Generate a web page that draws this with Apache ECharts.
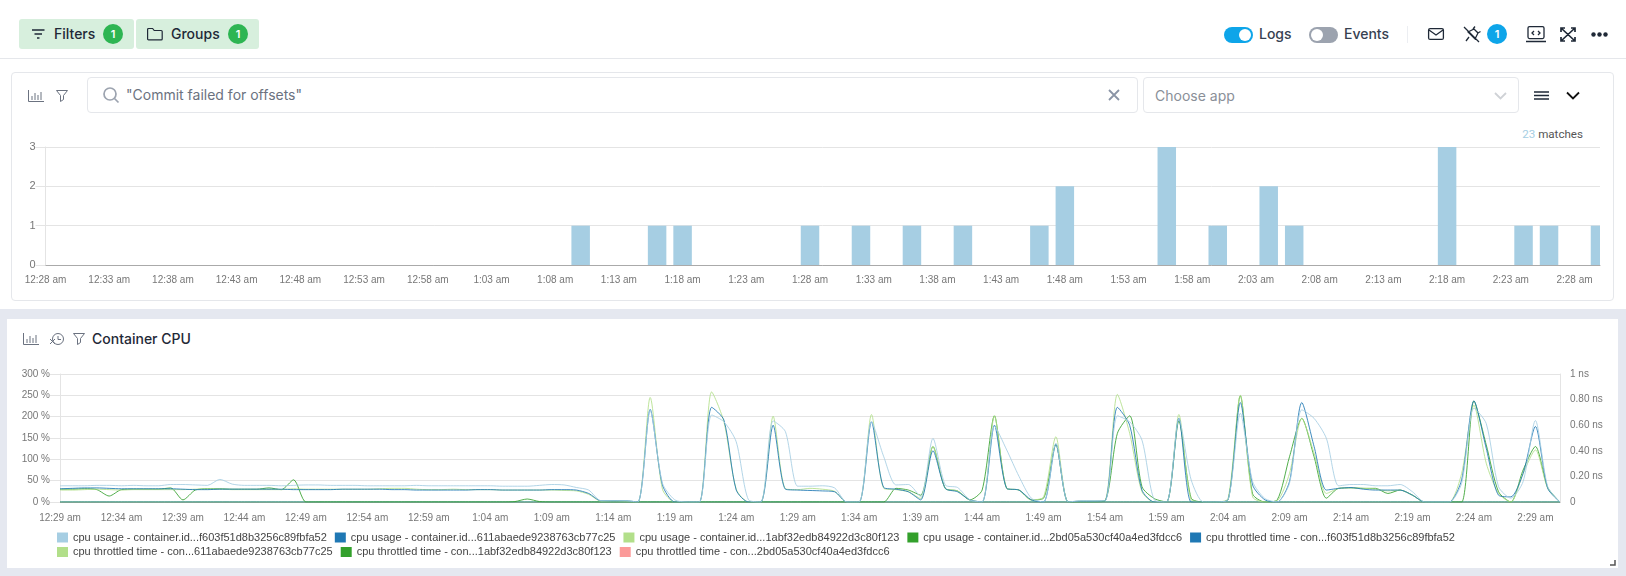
<!DOCTYPE html>
<html><head><meta charset="utf-8">
<script src="https://cdn.jsdelivr.net/npm/echarts@6/dist/echarts.min.js"></script>
<style>
html,body{margin:0;padding:0;background:#fff;width:1626px;height:576px;overflow:hidden;font-family:Inter,sans-serif;color:#1f2937}
.a{position:absolute}
.btn{background:#d7efdd;border-radius:3px;top:19px;height:30px}
.t{font-size:14px;font-weight:500;line-height:20px;white-space:nowrap}
.badge{border-radius:50%;color:#fff;font-size:11px;font-weight:600;text-align:center;width:20px;height:20px;line-height:20px}
.box{border:1px solid #e5e7eb;border-radius:4px;box-sizing:border-box;background:#fff}
.tog{border-radius:8px;width:29px;height:16px;top:27px}
.tog i{position:absolute;width:12px;height:12px;border-radius:50%;background:#fff;top:2px}
svg{position:absolute;overflow:visible;fill:none}
#chart{position:absolute;left:0;top:0;width:1626px;height:576px}
</style></head><body>
<div class="a" style="left:0;top:58px;width:1626px;height:1px;background:#e5e7eb"></div>
<div class="a btn" style="left:19px;width:115px"></div>
<div class="a btn" style="left:136px;width:123px"></div>
<svg style="left:32px;top:28px" width="13" height="12" stroke="#1f2937" stroke-width="1.6"><path d="M0 2h12.5M2.5 6h7.5M5 10h2.5"/></svg>
<svg style="left:147px;top:27px" width="16" height="14" stroke="#1f2937" stroke-width="1.2"><path d="M.6 2.5a1 1 0 0 1 1-1h4l1.6 2h7a1 1 0 0 1 1 1v7.4a1 1 0 0 1-1 1h-12.600a1 1 0 0 1-1-1z"/></svg>
<div class="a t" style="left:54px;top:24px">Filters</div>
<div class="a t" style="left:171px;top:24px">Groups</div>
<div class="a badge" style="left:103px;top:24px;background:#2db552">1</div>
<div class="a badge" style="left:228px;top:24px;background:#2db552">1</div>
<div class="a tog" style="left:1224px;background:#0ea5e9"><i style="left:15px"></i></div>
<div class="a t" style="left:1259px;top:24px;color:#374151">Logs</div>
<div class="a tog" style="left:1309px;background:#9ca3af"><i style="left:2px"></i></div>
<div class="a t" style="left:1344px;top:24px;color:#374151">Events</div>
<div class="a" style="left:1407px;top:26px;width:1px;height:17px;background:#eceef2"></div>
<svg style="left:1428px;top:28px" width="16" height="12" stroke="#1f2937" stroke-width="1.300"><rect x=".6" y=".6" width="14.800" height="10.800" rx="1.500"/><path d="M1 2l7 5 7-5"/></svg>
<svg style="left:1463px;top:26px" width="18" height="17" stroke="#1f2937" stroke-width="1.300"><path d="M1 1l15 15M5 6l6-3 4 4-3 6zM10 3l2-2.500M15 7l2.500-1.500M6 11l-3 4"/></svg>
<div class="a badge" style="left:1487px;top:24px;background:#0ea5e9">1</div>
<svg style="left:1526px;top:26px" width="20" height="17" stroke="#1f2937" stroke-width="1.300"><rect x="2" y=".6" width="16" height="12" rx="1.500"/><path d="M0 15.500h20M8 5l-2 2 2 2M12 5l2 2-2 2"/></svg>
<svg style="left:1560px;top:27px" width="16" height="15" stroke="#1f2937" stroke-width="1.700"><path d="M1 1l14 13M15 1l-14 13M1 5v-4h4M11 1h4v4M1 10v4h4M15 10v4h-4"/></svg>
<svg style="left:1591px;top:32px" width="17" height="5" fill="#1f2937"><circle cx="2.500" cy="2.500" r="2.200" fill="#1f2937"/><circle cx="8.500" cy="2.500" r="2.200" fill="#1f2937"/><circle cx="14.500" cy="2.500" r="2.200" fill="#1f2937"/></svg>

<div class="a box" style="left:11px;top:72px;width:1603px;height:229px"></div>
<svg style="left:28px;top:90px" width="16" height="12" stroke="#6b7280" stroke-width="1"><path d="M.5 0v11.500h15.500M4 10v-4M7 10v-7M10 10v-5M13 10v-8"/></svg>
<svg style="left:56px;top:90px" width="12" height="12" stroke="#6b7280" stroke-width="1"><path d="M.5.500h11l-4 5v4l-3 2v-6z"/></svg>
<div class="a box" style="left:87px;top:77px;width:1051px;height:36px"></div>
<svg style="left:103px;top:87px" width="16" height="16" stroke="#9ca3af" stroke-width="1.700"><circle cx="7" cy="7" r="6"/><path d="M11.500 11.500l4 4"/></svg>
<div class="a" style="left:126px;top:85px;font-size:14px;line-height:20px;color:#6b7280;white-space:nowrap">"Commit failed for offsets"</div>
<svg style="left:1109px;top:90px" width="10" height="10" stroke="#8a94a6" stroke-width="1.800"><path d="M0 0l10 10M10 0l-10 10"/></svg>
<div class="a box" style="left:1143px;top:77px;width:376px;height:36px"></div>
<div class="a" style="left:1155px;top:86px;font-size:14px;line-height:20px;color:#8a8f98;white-space:nowrap">Choose app</div>
<svg style="left:1495px;top:93px" width="11" height="7" stroke="#cfd2d6" stroke-width="1.800"><path d="M0 0l5.500 5.500 5.500-5.500"/></svg>
<svg style="left:1534px;top:91px" width="15" height="9" stroke="#1f2937" stroke-width="1.400"><path d="M0 1h15M0 4.500h15M0 8h15"/></svg>
<svg style="left:1567px;top:92px" width="12" height="8" stroke="#111" stroke-width="1.800"><path d="M0 .5l6 6 6-6"/></svg>
<div class="a" style="right:43px;top:127px;font:11.600px Roboto,sans-serif;line-height:14px;color:#555;white-space:nowrap"><span style="color:#a6cee3">23</span> matches</div>

<div class="a" style="left:0;top:309px;width:1626px;height:267px;background:#e5e8f0"></div>
<div class="a" style="left:7px;top:319px;width:1611px;height:249px;background:#fff"></div>
<svg style="left:23px;top:333px" width="16" height="12" stroke="#6b7280" stroke-width="1"><path d="M.5 0v11.500h15.500M4 10v-4M7 10v-7M10 10v-5M13 10v-8"/></svg>
<svg style="left:50px;top:333px" width="14" height="12" stroke="#6b7280" stroke-width="1"><circle cx="8" cy="6" r="5.500"/><path d="M8 3v3.500h3M0 11l5-5M0 6l5 5"/></svg>
<svg style="left:73px;top:333px" width="12" height="12" stroke="#6b7280" stroke-width="1"><path d="M.5.500h11l-4 5v4l-3 2v-6z"/></svg>
<div class="a t" style="left:92px;top:329px;color:#1f2937">Container CPU</div>
<svg style="left:1610px;top:560px" width="6" height="6" stroke="#555" stroke-width="1.500"><path d="M5 0v5h-5"/></svg>
<div id="chart"></div>
<script>
const logCategories = [];
const cpuCategories = [];
function clockLabel(totalMinutes){
  const h = Math.floor(totalMinutes/60), m = totalMinutes%60;
  return (h===0?12:h)+':'+String(m).padStart(2,'0')+' am';
}
for(let i=0;i<=122;i++){ logCategories.push(clockLabel(28+i)); cpuCategories.push(clockLabel(29+i)); }

const barTimes  = ['1:10 am','1:16 am','1:18 am','1:28 am','1:32 am','1:36 am','1:40 am','1:46 am','1:48 am','1:56 am','2:00 am','2:04 am','2:06 am','2:18 am','2:24 am','2:26 am','2:30 am'];
const barCounts = [1,1,1,1,1,1,1,1,2,3,1,2,1,3,1,1,1];

const usageF603 = [
 38,38,38,39,39,38,39,38,38,41,
 41,40,39,53,42,39,39,39,38,39,
 40,40,39,39,39,38,38,38,38,39,
 38,38,38,38,38,38,37,37,37,39,
 41,40,34,28,3,3,3,0,215,44,
 5,0,0,204,188,141,5,0,190,165,
 37,37,38,33,0,0,188,106,40,41,
 12,149,40,34,5,0,178,122,60,9,
 0,138,0,3,3,3,202,188,145,5,
 0,195,52,0,0,5,208,48,8,0,
 44,216,196,149,38,41,41,38,38,41,
 24,0,0,0,44,220,184,36,9,48,
 191,36,0];
const usage611 = [
 31,32,33,33,32,31,31,31,31,31,
 30,29,29,30,30,30,30,30,30,29,
 29,29,29,30,30,30,30,29,29,28,
 28,28,28,28,29,29,28,28,28,28,
 29,29,28,20,3,3,3,0,217,40,
 0,0,0,222,192,28,0,0,180,30,
 28,27,26,24,0,0,188,34,30,24,
 5,120,32,24,5,0,180,32,28,5,
 0,135,0,2,2,3,222,180,28,0,
 0,196,0,0,0,5,233,40,5,0,
 48,233,130,28,32,34,30,28,28,28,
 16,0,0,0,52,237,126,16,12,67,
 177,32,0];
const usage1abf = [
 28,28,29,30,29,28,29,29,29,29,
 29,30,30,30,29,29,29,29,29,31,
 30,30,30,30,30,30,31,32,32,30,
 29,29,30,29,29,29,28,28,28,28,
 28,27,26,18,2,3,2,0,245,30,
 0,0,0,258,188,30,0,0,201,31,
 29,32,30,25,0,0,205,32,29,24,
 8,130,32,26,5,0,202,32,28,5,
 12,153,0,2,2,4,252,161,24,0,
 0,205,5,0,0,8,250,12,0,3,
 67,196,114,20,32,34,32,30,26,28,
 16,0,0,0,67,227,91,20,0,67,
 122,32,0];
const usage2bd = [
 30,30,31,29,14,29,30,30,30,33,
 5,28,31,31,30,30,30,33,29,52,
 0,0,0,0,0,0,0,0,0,0,
 0,0,0,0,0,0,0,1,7,1,
 0,0,0,0,0,0,0,0,0,0,
 0,0,0,0,0,0,0,0,0,0,
 0,0,0,0,0,0,0,0,32,28,
 16,130,32,26,5,28,202,32,28,5,
 9,135,0,0,0,3,161,202,36,8,
 0,190,9,0,0,5,249,19,0,5,
 106,196,106,9,32,33,32,32,20,28,
 16,0,0,0,0,237,134,24,0,75,
 130,34,0];
const throttledZero = [
 0,0,0,0,0,0,0,0,0,0, 0,0,0,0,0,0,0,0,0,0,
 0,0,0,0,0,0,0,0,0,0, 0,0,0,0,0,0,0,0,0,0,
 0,0,0,0,0,0,0,0,0,0, 0,0,0,0,0,0,0,0,0,0,
 0,0,0,0,0,0,0,0,0,0, 0,0,0,0,0,0,0,0,0,0,
 0,0,0,0,0,0,0,0,0,0, 0,0,0,0,0,0,0,0,0,0,
 0,0,0,0,0,0,0,0,0,0, 0,0,0,0,0,0,0,0,0,0,
 0,0,0];

const seriesNames = [
 'cpu usage - container.id...f603f51d8b3256c89fbfa52',
 'cpu usage - container.id...611abaede9238763cb77c25',
 'cpu usage - container.id...1abf32edb84922d3c80f123',
 'cpu usage - container.id...2bd05a530cf40a4ed3fdcc6',
 'cpu throttled time - con...f603f51d8b3256c89fbfa52',
 'cpu throttled time - con...611abaede9238763cb77c25',
 'cpu throttled time - con...1abf32edb84922d3c80f123',
 'cpu throttled time - con...2bd05a530cf40a4ed3fdcc6'];
const seriesColors = ['#a6cee3','#1f78b4','#b2df8a','#33a02c','#1f78b4','#b2df8a','#33a02c','#fb9a99'];
const seriesValues = [usageF603,usage611,usage1abf,usage2bd,throttledZero,throttledZero,throttledZero,[]];

const labelColor='#777', gridColor='#e4e4e4';
const label = {color:labelColor,fontSize:10,fontFamily:'Liberation Sans'};
const every5 = i => i%5===0;
const chart = echarts.init(document.getElementById('chart'),null,{renderer:'canvas'});
chart.setOption({
  animation:false,
  grid:[
    {left:45.500,top:147,width:1554.500,height:118},
    {left:60,top:374,width:1500,height:128}
  ],
  xAxis:[
    {type:'category',gridIndex:0,data:logCategories,boundaryGap:false,
     axisLine:{lineStyle:{color:'#aaa'}},axisTick:{show:false},
     axisLabel:{...label,interval:every5,margin:10}},
    {type:'category',gridIndex:1,data:cpuCategories,boundaryGap:false,
     axisLine:{lineStyle:{color:'#aaa'}},axisTick:{show:false},
     axisLabel:{...label,interval:every5,margin:11}}
  ],
  yAxis:[
    {type:'value',gridIndex:0,min:0,max:3,interval:1,
     axisLine:{show:true,lineStyle:{color:gridColor}},axisTick:{show:true,length:10,lineStyle:{color:gridColor}},
     splitLine:{lineStyle:{color:gridColor}},axisLabel:{...label,fontSize:11,margin:10}},
    {type:'value',gridIndex:1,min:0,max:300,interval:50,
     axisLine:{show:true,lineStyle:{color:gridColor}},axisTick:{show:true,length:10,lineStyle:{color:gridColor}},
     splitLine:{lineStyle:{color:gridColor}},axisLabel:{...label,margin:10,formatter:'{value} %'}},
    {type:'value',gridIndex:1,position:'right',min:0,max:1,interval:0.2,
     axisLine:{show:true,lineStyle:{color:gridColor}},axisTick:{show:false},splitLine:{show:false},
     axisLabel:{...label,margin:10,formatter:v=>v===0?'0':(v===1?'1 ns':v.toFixed(2)+' ns')}}
  ],
  legend:[
    {data:seriesNames.slice(0,5),left:57,top:532,padding:0,icon:'rect',itemWidth:11,itemHeight:10,itemGap:8,
     textStyle:{...label,fontSize:11,color:'#444'}},
    {data:seriesNames.slice(5),left:57,top:546.500,padding:0,icon:'rect',itemWidth:11,itemHeight:10,itemGap:8,
     textStyle:{...label,fontSize:11,color:'#444'}}
  ],
  series:[
    {type:'custom',name:'matches',xAxisIndex:0,yAxisIndex:0,
     data:barTimes.map((t,i)=>[t,barCounts[i]]),encode:{x:0,y:1},
     renderItem(params,api){
       const top=api.coord([api.value(0),api.value(1)]);
       const base=api.coord([api.value(0),0]);
       const w=18.500;
       const rect=echarts.graphic.clipRectByRect(
         {x:top[0]-w/2,y:top[1],width:w,height:base[1]-top[1]},
         {x:params.coordSys.x,y:params.coordSys.y,width:params.coordSys.width,height:params.coordSys.height});
       return rect&&{type:'rect',shape:rect,style:{fill:'#a6cee3'}};
     }},
    ...seriesNames.map((name,i)=>({
      type:'line',name,xAxisIndex:1,yAxisIndex:i<4?1:2,z:20-i,smooth:0.25,showSymbol:false,symbol:'none',
      lineStyle:{width:1,color:seriesColors[i],opacity:0.85},itemStyle:{color:seriesColors[i]},
      data:seriesValues[i]
    }))
  ]
});
</script>
</body></html>
